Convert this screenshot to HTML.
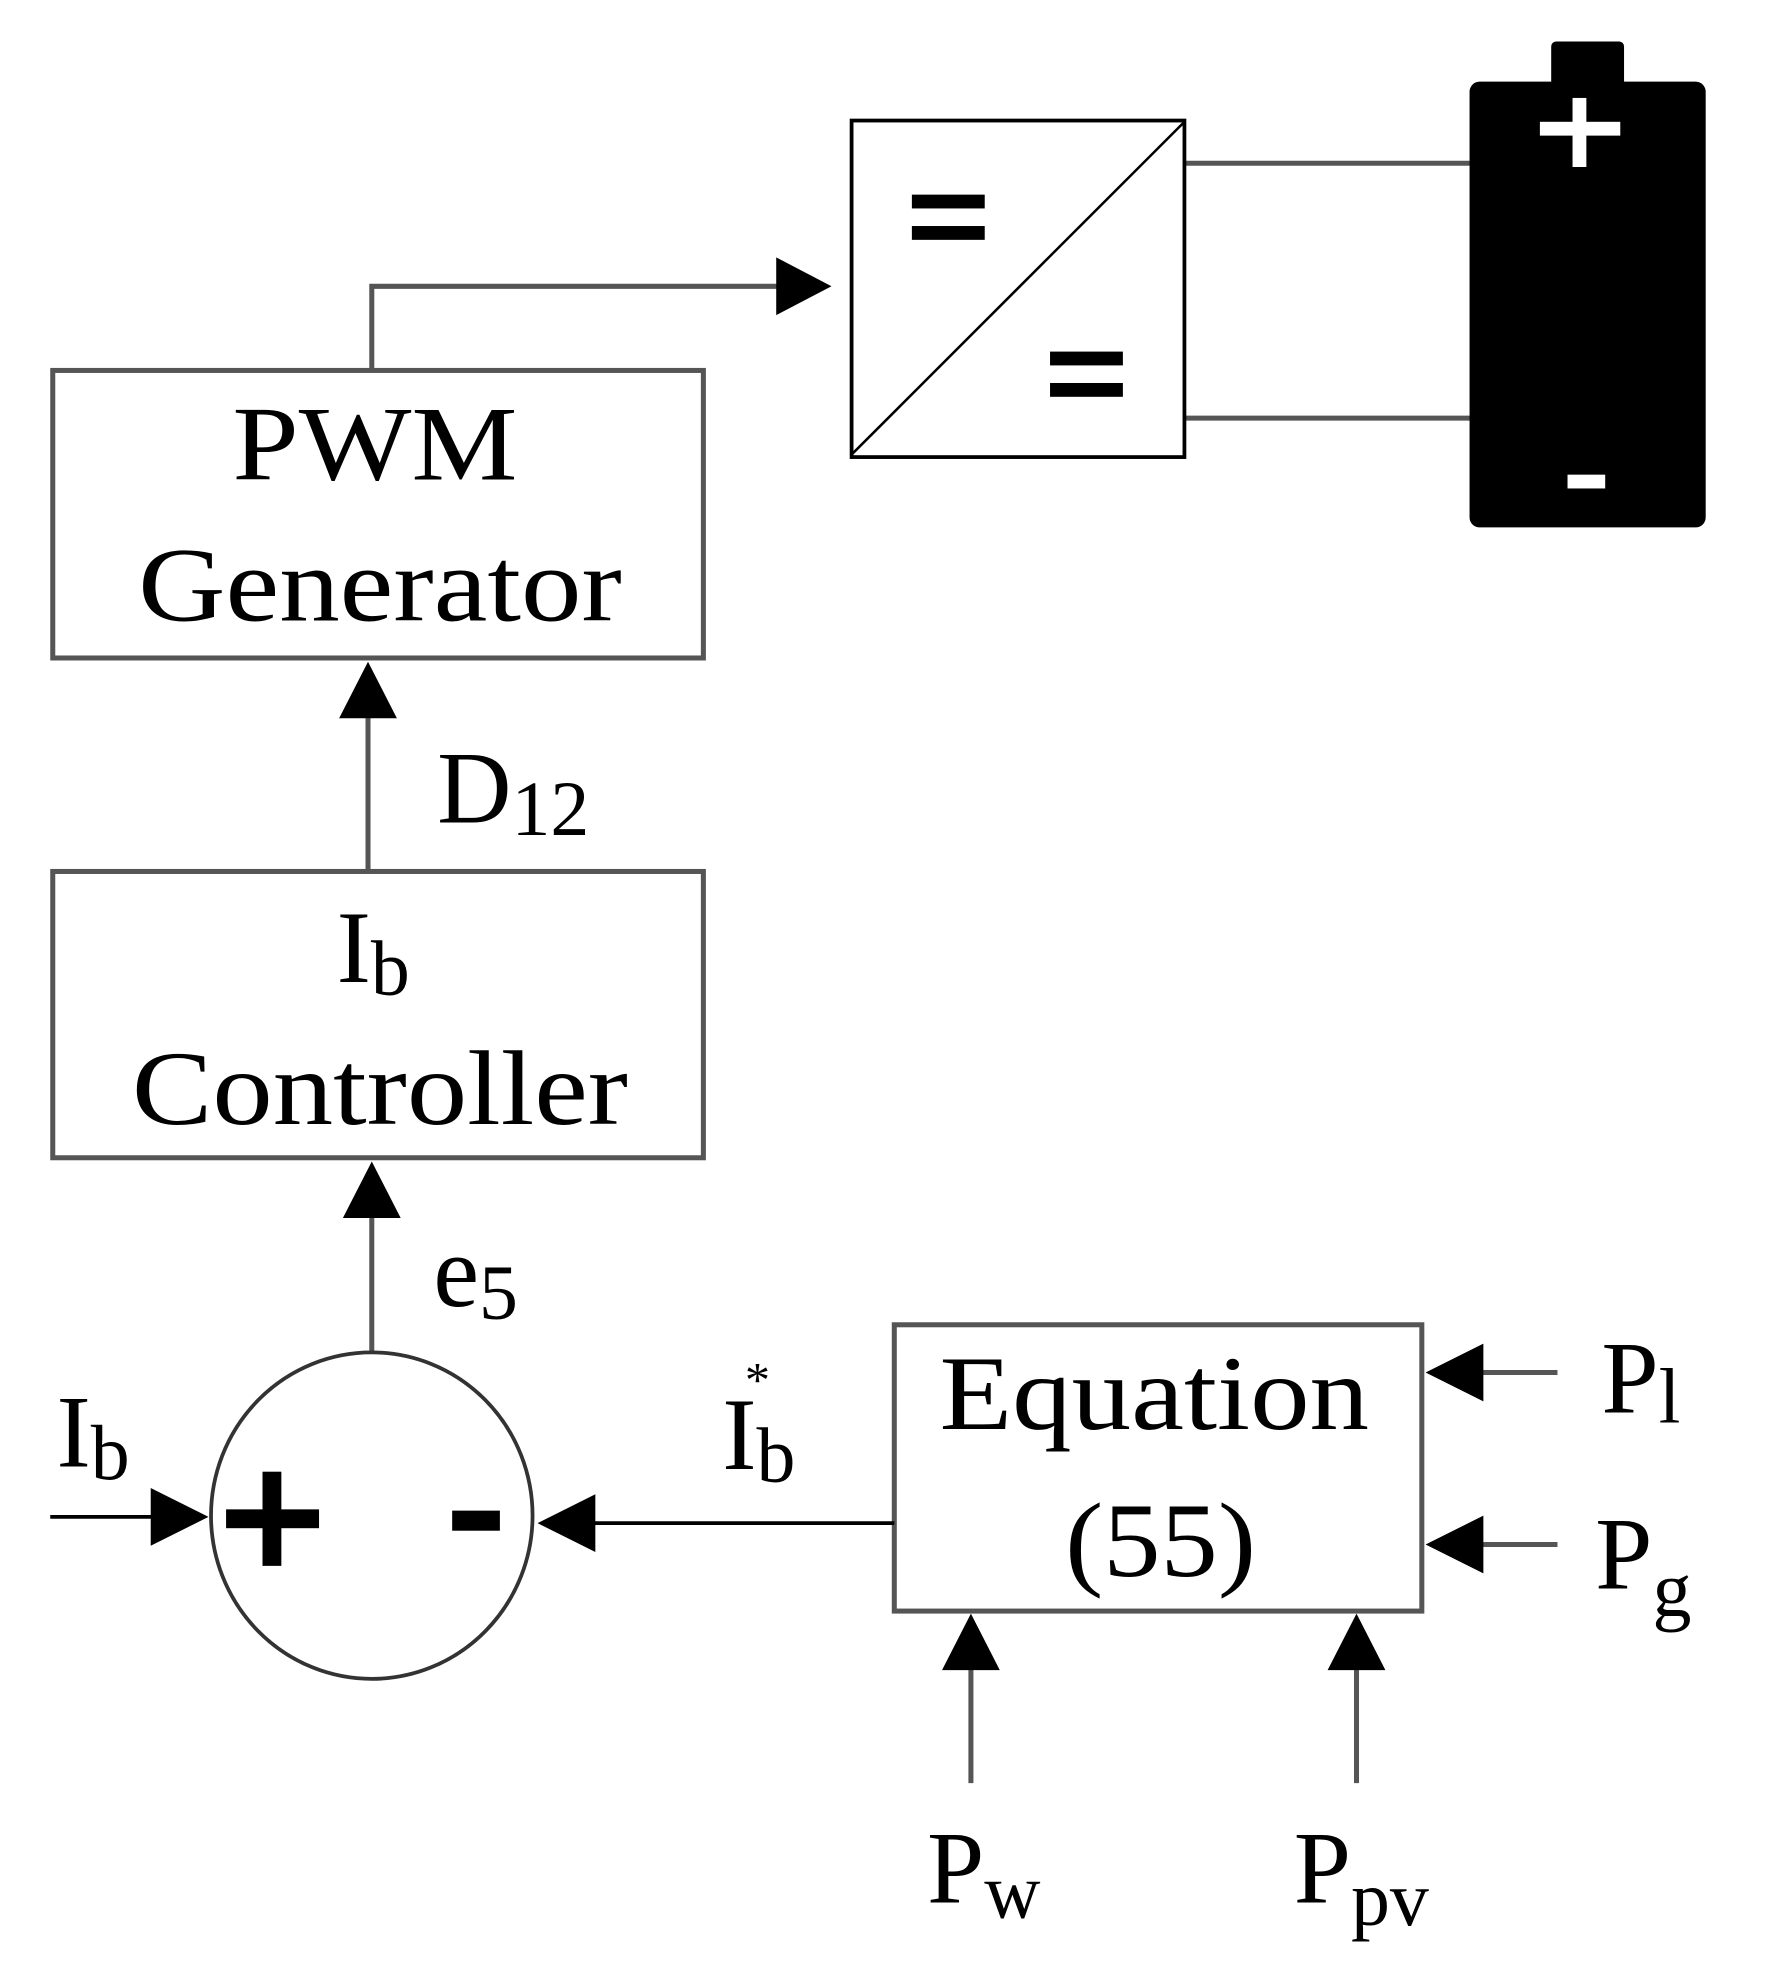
<!DOCTYPE html>
<html><head><style>html,body{margin:0;padding:0;background:#fff}svg{display:block}</style></head>
<body>
<svg width="1771" height="1979" viewBox="0 0 1410 1576" preserveAspectRatio="none" xmlns="http://www.w3.org/2000/svg" font-family="Liberation Serif, serif">
<g fill="none" stroke="#555" stroke-width="4">
<rect x="42" y="295" width="518" height="229"/>
<rect x="42" y="694" width="518" height="228"/>
<rect x="712" y="1055" width="420" height="228"/>
<polyline points="296,295 296,228 622,228"/>
<line x1="293" y1="694" x2="293" y2="565"/>
<line x1="296" y1="1077" x2="296" y2="965"/>
<line x1="943" y1="130" x2="1172" y2="130"/>
<line x1="943" y1="333" x2="1172" y2="333"/>
<line x1="1240" y1="1093" x2="1175" y2="1093"/>
<line x1="1240" y1="1230" x2="1175" y2="1230"/>
<line x1="773" y1="1420" x2="773" y2="1325"/>
<line x1="1080" y1="1420" x2="1080" y2="1325"/>
</g>
<g fill="none" stroke="#000" stroke-width="3">
<rect x="678" y="96" width="265" height="268"/>
<line x1="678" y1="362" x2="943" y2="97" stroke-width="2"/>
<ellipse cx="296" cy="1207" rx="128" ry="130" stroke="#333"/>
<line x1="40" y1="1208" x2="130" y2="1208"/>
<line x1="712" y1="1213" x2="460" y2="1213"/>
</g>
<g fill="#000">
<polygon points="662,228 618,205 618,251"/>
<polygon points="293,527 270,572 316,572"/>
<polygon points="296,925 273,970 319,970"/>
<polygon points="166,1208 120,1185 120,1231"/>
<polygon points="428,1213 474,1190 474,1236"/>
<polygon points="1135,1093 1181,1070 1181,1116"/>
<polygon points="1135,1230 1181,1207 1181,1253"/>
<polygon points="773,1285 750,1330 796,1330"/>
<polygon points="1080,1285 1057,1330 1103,1330"/>
<rect x="1170" y="65" width="188" height="355" rx="8"/>
<rect x="1235" y="33" width="58" height="40" rx="4"/>
<rect x="726" y="155" width="58" height="11"/><rect x="726" y="180" width="58" height="11"/>
<rect x="836" y="280" width="58" height="11"/><rect x="836" y="305" width="58" height="11"/>
<rect x="180" y="1202" width="74" height="15"/><rect x="209" y="1172" width="15" height="75"/>
<rect x="360" y="1203" width="38" height="16"/>
</g>
<g fill="#fff">
<rect x="1226" y="97" width="64" height="11"/><rect x="1252" y="78" width="11" height="55"/>
<rect x="1248" y="378" width="30" height="11"/>
</g>
<g fill="#000" font-size="84">
<text x="185" y="382" textLength="227" lengthAdjust="spacingAndGlyphs">PWM</text>
<text x="110" y="494" textLength="385" lengthAdjust="spacingAndGlyphs">Generator</text>
<text x="105" y="895" textLength="395" lengthAdjust="spacingAndGlyphs">Controller</text>
<text x="748" y="1138" textLength="342" lengthAdjust="spacingAndGlyphs">Equation</text>
<text x="848" y="1255" textLength="152" lengthAdjust="spacingAndGlyphs">(55)</text>
</g>
<g fill="#000" font-size="82">
<text x="268" y="782">I<tspan font-size="62" dy="10">b</tspan></text>
<text x="348" y="655">D<tspan font-size="62" dy="10">12</tspan></text>
<text x="345" y="1040">e<tspan font-size="62" dy="10">5</tspan></text>
<text x="45" y="1168">I<tspan font-size="62" dy="10">b</tspan></text>
<text x="575" y="1170">I<tspan font-size="62" dy="10">b</tspan></text>
<text x="593" y="1112" font-size="40">*</text>
<text x="1275" y="1125">P<tspan font-size="62" dy="8">l</tspan></text>
<text x="1270" y="1265">P<tspan font-size="62" dy="22">g</tspan></text>
<text x="738" y="1515">P<tspan font-size="62" dy="12">w</tspan></text>
<text x="1030" y="1515">P<tspan font-size="62" dy="18">pv</tspan></text>
</g>
</svg>
</body></html>
